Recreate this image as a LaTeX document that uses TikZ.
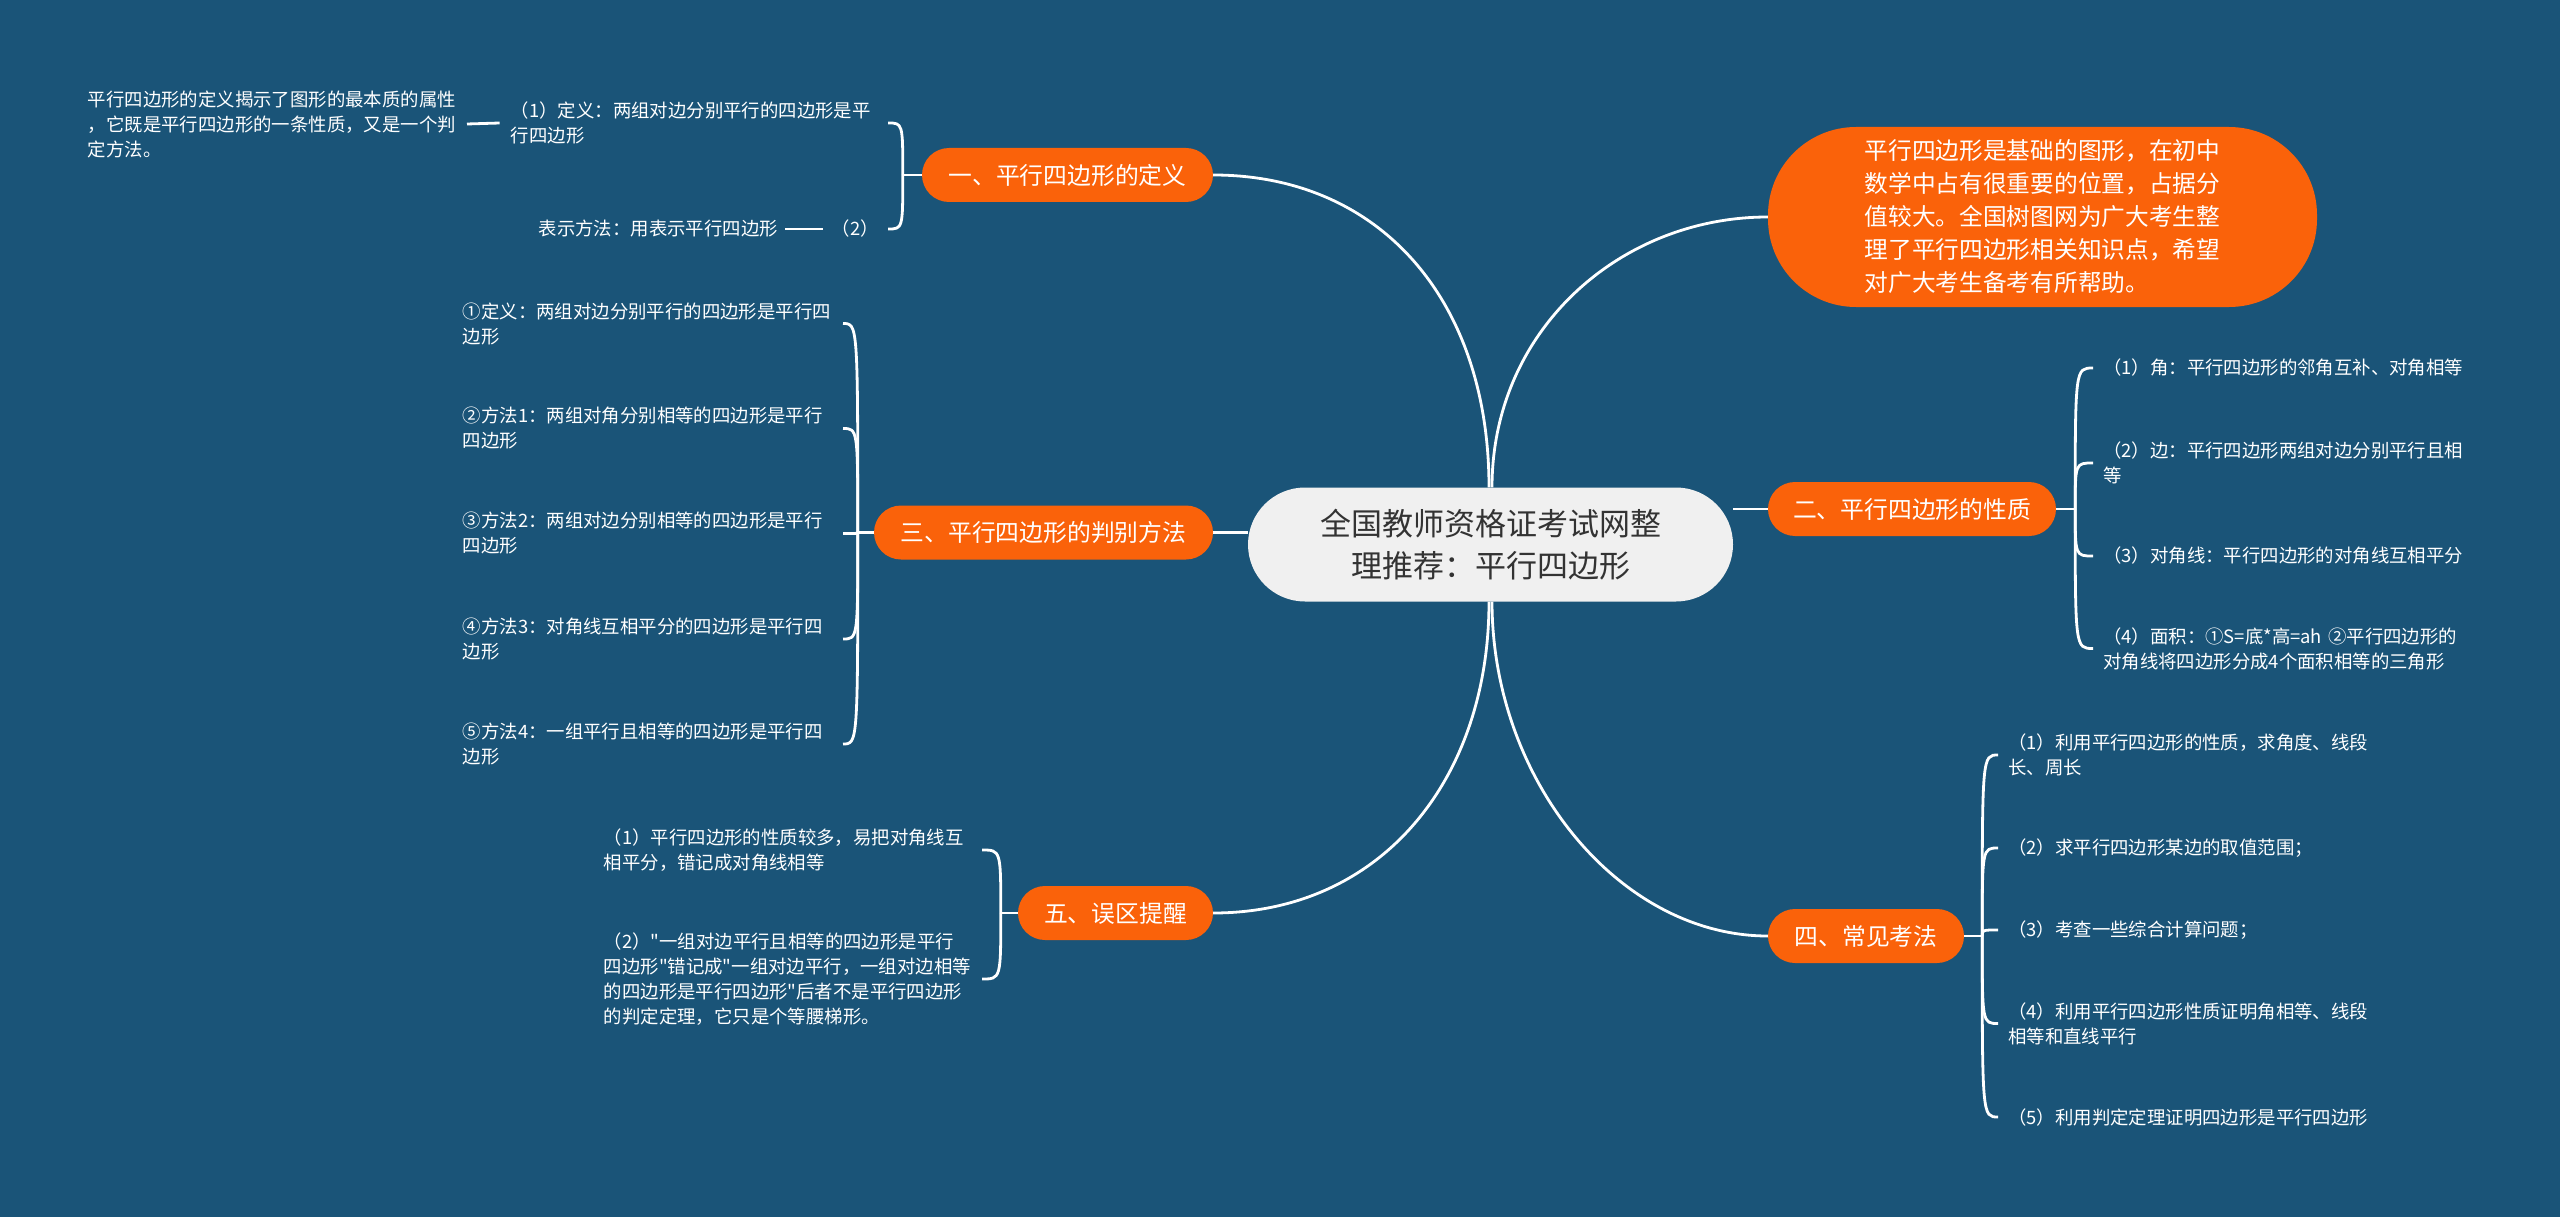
\documentclass[tikz,border=0pt]{standalone}
\usepackage{fontspec}
\setmainfont{Noto Sans CJK SC}
\newfontfamily\plainfont{Noto Sans CJK SC}
\usetikzlibrary{calc}
\definecolor{bgblue}{RGB}{26,84,120}
\definecolor{orng}{RGB}{250,98,10}
\definecolor{rootfill}{RGB}{240,240,240}
\definecolor{roottext}{RGB}{51,51,51}
\pgfdeclarelayer{bgl}
\pgfdeclarelayer{lines}
\pgfsetlayers{bgl,lines,main}
\begin{document}
\begin{tikzpicture}[x=1pt,y=-1pt,
  conn/.style={draw=white, line width=2.8pt},
  branch/.style={fill=orng, text=white, rounded corners=27pt, minimum height=54pt, inner xsep=0pt, font=\fontsize{23.8}{28}\selectfont},
  leafl/.style={anchor=east, text=white, align=left, inner xsep=0pt, inner ysep=2pt, font=\fontsize{18.4}{25}\selectfont},
  leafr/.style={anchor=west, text=white, align=left, inner xsep=10pt, inner ysep=2pt, text width=380pt, font=\fontsize{18.4}{25}\selectfont}]
\useasboundingbox (0,0) rectangle (2560,1217);
\begin{pgfonlayer}{bgl}
\fill[bgblue] (0,0) rectangle (2560,1217);
\end{pgfonlayer}

% root and intro
\node[fill=rootfill, text=roottext, rounded corners=57pt, minimum width=485pt, minimum height=114pt, align=center, inner sep=0pt, font=\fontsize{31}{42}\selectfont] (root) at (1490.5,544.5) {全国教师资格证考试网整\\理推荐：平行四边形};
\node[fill=orng, text=white, rounded corners=88pt, minimum width=549pt, minimum height=180pt, align=left, inner sep=0pt, font=\fontsize{23.7}{33}\selectfont] (intro) at (2042.5,217) {平行四边形是基础的图形，在初中\\数学中占有很重要的位置，占据分\\值较大。全国树图网为广大考生整\\理了平行四边形相关知识点，希望\\对广大考生备考有所帮助。};

% branches
\node[branch, minimum width=291pt] (B1) at (1067.5,175) {一、平行四边形的定义};
\node[branch, minimum width=339pt] (B3) at (1043.5,532.5) {三、平行四边形的判别方法};
\node[branch, minimum width=195pt] (B5) at (1115.5,913) {五、误区提醒};
\node[branch, minimum width=288pt] (B2) at (1912,509) {二、平行四边形的性质};
\node[branch, minimum width=196pt] (B4) at (1866,936) {四、常见考法};

\coordinate (J1) at ([xshift=-19pt]B1.west);
\coordinate (J3) at ([xshift=-16pt]B3.west);
\coordinate (J5) at ([xshift=-17pt]B5.west);
\coordinate (J2) at ([xshift=19pt]B2.east);
\coordinate (J4) at ([xshift=18pt]B4.east);

% branch 1 children
\node[leafl, text width=377pt] (c11) at (888,123) {（1）定义：两组对边分别平行的四边形是平\\行四边形};
\node[leafl, text width=379pt] (l11) at (467,124) {平行四边形的定义揭示了图形的最本质的属性\\，它既是平行四边形的一条性质，又是一个判\\定方法。};
\node[leafl, inner xsep=9pt, align=right] (c12) at (888,229) {（2）};
\node[leafl, inner xsep=7pt] (l12) at (785,229) {表示方法：用表示平行四边形};

% branch 3 children
\node[leafl, text width=380pt] (c31) at (843,323.5) {①定义：两组对边分别平行的四边形是平行四\\边形};
\node[leafl, text width=380pt] (c32) at (843,428.5) {②方法1：两组对角分别相等的四边形是平行\\四边形};
\node[leafl, text width=380pt] (c33) at (843,533.5) {③方法2：两组对边分别相等的四边形是平行\\四边形};
\node[leafl, text width=380pt] (c34) at (843,639) {④方法3：对角线互相平分的四边形是平行四\\边形};
\node[leafl, text width=380pt] (c35) at (843,744) {⑤方法4：一组平行且相等的四边形是平行四\\边形};

% branch 5 children
\node[leafl, text width=378pt] (c51) at (982,850) {（1）平行四边形的性质较多，易把对角线互\\相平分，错记成对角线相等};
\node[leafl, text width=378pt, font=\plainfont\fontsize{18.4}{25}\selectfont] (c52) at (982,979) {（2）"一组对边平行且相等的四边形是平行\\四边形"错记成"一组对边平行，一组对边相等\\的四边形是平行四边形"后者不是平行四边形\\的判定定理，它只是个等腰梯形。};

% branch 2 children
\node[leafr] (c21) at (2093,368) {（1）角：平行四边形的邻角互补、对角相等};
\node[leafr] (c22) at (2093,463) {（2）边：平行四边形两组对边分别平行且相\\等};
\node[leafr] (c23) at (2093,556) {（3）对角线：平行四边形的对角线互相平分};
\node[leafr] (c24) at (2093,648.5) {（4）面积：①S=底*高=ah ②平行四边形的\\对角线将四边形分成4个面积相等的三角形};

% branch 4 children
\node[leafr] (c41) at (1998,755) {（1）利用平行四边形的性质，求角度、线段\\长、周长};
\node[leafr] (c42) at (1998,848) {（2）求平行四边形某边的取值范围；};
\node[leafr] (c43) at (1998,930) {（3）考查一些综合计算问题；};
\node[leafr] (c44) at (1998,1023.5) {（4）利用平行四边形性质证明角相等、线段\\相等和直线平行};
\node[leafr] (c45) at (1998,1117) {（5）利用判定定理证明四边形是平行四边形};

\begin{pgfonlayer}{lines}
% root connectors
\draw[conn] ([xshift=-1.5pt]root.north) .. controls +(0,-187) and +(167,0) .. (B1.east);
\draw[conn] ([xshift=1.5pt]root.north) .. controls +(0,-157) and +(-148,0) .. (intro.west);
\draw[conn] ([xshift=-1.5pt]root.south) .. controls +(0,179) and +(167,0) .. (B5.east);
\draw[conn] ([xshift=1.5pt]root.south) .. controls +(0,179) and +(-148,0) .. (B4.west);
\draw[conn] (B3.east) -- (B3.east -| root.west);
\draw[conn] (B2.west) -- (B2.west -| root.east);
% stubs
\draw[conn] (B1.west) -- (J1);
\draw[conn] (B3.west) -- (J3);
\draw[conn] (B5.west) -- (J5);
\draw[conn] (B2.east) -- (J2);
\draw[conn] (B4.east) -- (J4);
% brackets
\foreach \c in {c11,c12} \draw[conn] (J1) .. controls (J1 |- \c.east) .. (\c.east);
\foreach \c in {c31,c32,c33,c34,c35} \draw[conn] (J3) .. controls (J3 |- \c.east) .. (\c.east);
\foreach \c in {c51,c52} \draw[conn] (J5) .. controls (J5 |- \c.east) .. (\c.east);
\foreach \c in {c21,c22,c23,c24} \draw[conn] (J2) .. controls (J2 |- \c.west) .. (\c.west);
\foreach \c in {c41,c42,c43,c44,c45} \draw[conn] (J4) .. controls (J4 |- \c.west) .. (\c.west);
% leaf links
\draw[conn] (l11.east) -- ([xshift=-11pt]c11.west);
\draw[conn] (l12.east) -- (c12.west);
\end{pgfonlayer}
\end{tikzpicture}
\end{document}
